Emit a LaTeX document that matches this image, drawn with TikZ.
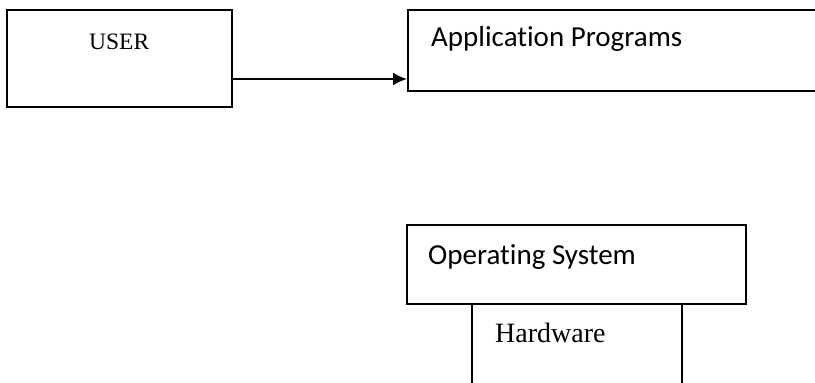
\documentclass[tikz,border=0pt]{standalone}
\usepackage{fontspec}
\setmainfont{Liberation Serif}
\newfontfamily\calibrifont[Ligatures=NoCommon]{Carlito}
\usetikzlibrary{arrows.meta}
\begin{document}
\begin{tikzpicture}[x=1pt,y=1pt,
  box/.style={draw=black,line width=2pt,minimum width=#1,inner sep=0pt},
  lbl/.style={anchor=base west,inner sep=0pt,text=black},
  conn/.style={line width=2pt,-{Latex[length=14pt,width=13pt]}}]
\useasboundingbox (0,0) rectangle (815,383);
\clip (0,0) rectangle (815,383);
\node[box=225pt,minimum height=97pt] (user) at (119.5,324.5) {};
\node[box=422pt,minimum height=81pt] (app) at (619,332.5) {};
\node[box=339pt,minimum height=79pt] (os) at (576.5,118.5) {};
\node[box=210pt,minimum height=99pt] (hw) at (577,29.5) {};
\node[lbl,font=\fontsize{23.5}{28}\selectfont] (tuser) at (89,333) {USER};
\node[lbl,font=\calibrifont\fontsize{29}{34}\selectfont] (tapp) at (431,336) {Application Programs};
\node[lbl,font=\calibrifont\fontsize{29}{34}\selectfont] (tos) at (428,118) {Operating System};
\node[lbl,font=\fontsize{28}{33}\selectfont] (thw) at (495,40) {Hardware};
\draw[conn] ([yshift=-20.5pt]user.east) -- ([yshift=-28.5pt]app.west);
\end{tikzpicture}
\end{document}
